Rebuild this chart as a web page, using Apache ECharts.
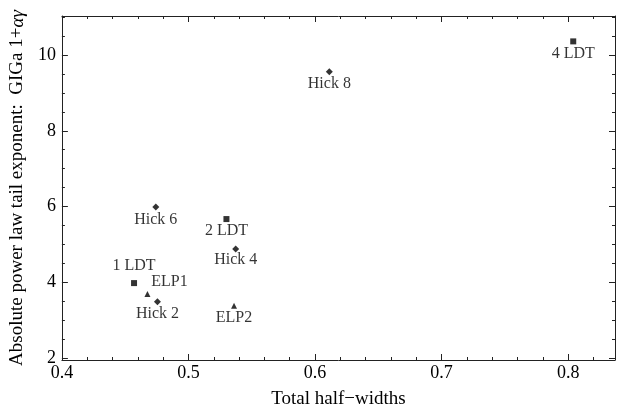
<!DOCTYPE html>
<html>
<head>
<meta charset="utf-8">
<title>Tail exponent vs half-widths</title>
<script src="https://cdn.jsdelivr.net/npm/echarts@6/dist/echarts.min.js"></script>
<style>
  html, body { margin: 0; padding: 0; background: #fff; }
  #chart { width: 618px; height: 414px; }
</style>
</head>
<body>
<div id="chart"></div>
<script>
// data
var ldtNames = ['1 LDT', '2 LDT', '4 LDT']
var ldtX = [0.457, 0.530, 0.804]
var ldtY = [3.98, 5.67, 10.36]

var hickNames = ['Hick 2', 'Hick 4', 'Hick 6', 'Hick 8']
var hickX = [0.4755, 0.5373, 0.4742, 0.6113]
var hickY = [3.49, 4.88, 5.99, 9.56]

var elpNames = ['ELP1', 'ELP2']
var elpX = [0.4676, 0.536]
var elpY = [3.69, 3.38]

var xTicks = [0.4, 0.5, 0.6, 0.7, 0.8]
var yTicks = [2, 4, 6, 8, 10]

// label placement around each marker (px)
var labelOffset = {
  '1 LDT': [0, -17],
  '2 LDT': [0, 12],
  '4 LDT': [0, 12],
  'Hick 2': [0, 12],
  'Hick 4': [0, 11],
  'Hick 6': [0, 13],
  'Hick 8': [0, 12],
  'ELP1': [22, -12],
  'ELP2': [0, 12]
}

var xMin = 0.4, xMax = 0.837
var yMin = 1.95, yMax = 11.03

var xMinor = []
for (var i = 0; i <= 22; i++) {
  var v = +(0.4 + i * 0.02).toFixed(2)
  if (v <= xMax && xTicks.indexOf(v) < 0) xMinor.push(v)
}
var yMinor = []
for (var j = 0; j <= 18; j++) {
  var w = 2 + j * 0.5
  if (w <= yMax && yTicks.indexOf(w) < 0) yMinor.push(w)
}

var font = '"Liberation Serif", "Times New Roman", serif'
var frame = '#222'

function points(names, xs, ys) {
  return names.map(function(n, k) {
    return {
      name: n,
      value: [xs[k], ys[k]],
      label: { offset: labelOffset[n] }
    }
  })
}

function tickAxis(pos, min, max, values, len, withLine) {
  return {
    type: 'value',
    position: pos,
    min: min,
    max: max,
    axisLine: { show: withLine, onZero: false, lineStyle: { color: frame, width: 1 } },
    axisTick: { show: true, inside: true, length: len, customValues: values, lineStyle: { color: frame } },
    axisLabel: { show: false },
    splitLine: { show: false }
  }
}

var chart = echarts.init(document.getElementById('chart'), null, { renderer: 'canvas' })

var xMain = tickAxis('bottom', xMin, xMax, xTicks, 6, true)
xMain.axisLabel = {
  show: true, customValues: xTicks, margin: 4,
  color: '#000', fontFamily: font, fontSize: 18,
  formatter: function(v) { return v.toFixed(1) }
}
xMain.name = 'Total half\u2212widths'
xMain.nameLocation = 'middle'
xMain.nameGap = 30
xMain.nameTextStyle = { color: '#000', fontFamily: font, fontSize: 19 }

var yMain = tickAxis('left', yMin, yMax, yTicks, 6, true)
yMain.axisLabel = {
  show: true, customValues: yTicks, margin: 6,
  color: '#000', fontFamily: font, fontSize: 18
}
yMain.name = 'Absolute power law tail exponent:  GIGa 1+{i|\u03b1\u03b3}'
yMain.nameLocation = 'middle'
yMain.nameGap = 33
yMain.nameTextStyle = {
  color: '#000', fontFamily: font, fontSize: 19,
  rich: { i: { fontStyle: 'italic', fontFamily: font, fontSize: 19, color: '#000' } }
}

var labelStyle = {
  show: true,
  position: 'inside',
  formatter: '{b}',
  color: '#000',
  fontFamily: font,
  fontSize: 16
}

chart.setOption({
  animation: false,
  backgroundColor: '#fff',
  grid: { left: 61, right: 3, top: 16, bottom: 52 },
  xAxis: [
    xMain,
    tickAxis('bottom', xMin, xMax, xMinor, 3, false),
    tickAxis('top', xMin, xMax, xTicks, 6, true),
    tickAxis('top', xMin, xMax, xMinor, 3, false)
  ],
  yAxis: [
    yMain,
    tickAxis('left', yMin, yMax, yMinor, 3, false),
    tickAxis('right', yMin, yMax, yTicks, 6, true),
    tickAxis('right', yMin, yMax, yMinor, 3, false)
  ],
  series: [
    {
      name: 'LDT', type: 'scatter',
      symbol: 'rect', symbolSize: 6,
      itemStyle: { color: '#000' },
      label: labelStyle,
      data: points(ldtNames, ldtX, ldtY)
    },
    {
      name: 'Hick', type: 'scatter',
      symbol: 'path://M0,-1L1,0L0,1L-1,0Z', symbolSize: 7,
      itemStyle: { color: '#000' },
      label: labelStyle,
      data: points(hickNames, hickX, hickY)
    },
    {
      name: 'ELP', type: 'scatter',
      symbol: 'triangle', symbolSize: 6,
      itemStyle: { color: '#000' },
      label: labelStyle,
      data: points(elpNames, elpX, elpY)
    }
  ]
})
</script>
</body>
</html>
